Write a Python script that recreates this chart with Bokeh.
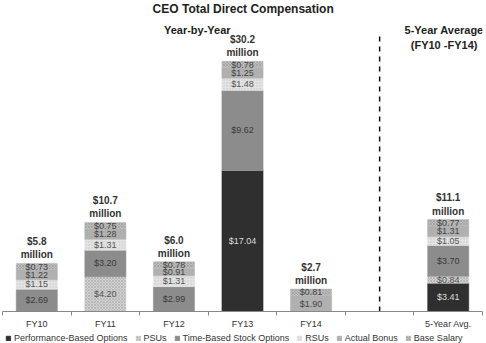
from bokeh.plotting import figure
from bokeh.layouts import column
from bokeh.models import (ColumnDataSource, Range1d, FixedTicker, Legend, LegendItem, Label)
from bokeh.core.properties import value
from bokeh.transform import stack
from bokeh.embed import file_html
from bokeh.resources import INLINE

# Compensation data ($ millions)
categories = ["FY10", "FY11", "FY12", "FY13", "FY14", "", "5-Year Avg."]
perf_options = [0, 0, 0, 17.04, 0, 0, 3.41]
psus = [0, 4.20, 0, 0, 0, 0, 0.84]
time_options = [2.69, 3.20, 2.99, 9.62, 0, 0, 3.70]
rsus = [1.15, 1.31, 1.31, 1.48, 0, 0, 1.05]
bonus = [1.22, 1.28, 0.91, 1.25, 1.90, 0, 1.31]
salary = [0.73, 0.75, 0.78, 0.78, 0.81, 0, 0.77]
totals = [5.8, 10.7, 6.0, 30.2, 2.7, 0, 11.1]

series_names = ["Performance-Based Options", "PSUs", "Time-Based Stock Options",
                "RSUs", "Actual Bonus", "Base Salary"]
series_vals = [perf_options, psus, time_options, rsus, bonus, salary]

FONT = "Liberation Sans"
fills = ["#2f2f2f", "#d2d2d2", "#8c8c8c", "#e4e4e4", "#b0b0b0", "#bcbcbc"]
hatches = [None, "x", None, "dot", None, "x"]
hatch_cols = [None, "#a8a8a8", None, "#c4c4c4", None, "#999999"]
label_cols = ["#dddddd", "#555555", "#3a3a3a", "#555555", "#444444", "#444444"]


def layer_style(i):
    kw = dict(fill_color=fills[i], line_color=fills[i], line_width=0.5)
    if hatches[i]:
        kw.update(hatch_pattern=hatches[i], hatch_color=hatch_cols[i],
                  hatch_scale=3, hatch_weight=0.6)
    return kw


xs = [i + 0.5 for i in range(len(categories))]
keys = ["s%d" % i for i in range(len(series_names))]
data = {"x": xs}
for k, v in zip(keys, series_vals):
    data[k] = v
src = ColumnDataSource(data)

p = figure(width=486, height=331, output_backend="svg", toolbar_location=None,
           x_range=Range1d(0, len(categories)), y_range=Range1d(0, 37.5),
           min_border_left=2, min_border_right=4, min_border_top=0, min_border_bottom=0)
p.outline_line_color = None
p.xgrid.visible = False
p.ygrid.visible = False
p.yaxis.visible = False

# Stacked segments, one layer per component
for i, k in enumerate(keys):
    p.vbar(x="x", width=0.6, bottom=stack(*keys[:i]), top=stack(*keys[: i + 1]),
           source=src, **layer_style(i))

# Segment value labels
lx, ly, lt, lc = [], [], [], []
for i, vals in enumerate(series_vals):
    for j, v in enumerate(vals):
        if v <= 0:
            continue
        base = sum(series_vals[m][j] for m in range(i))
        lx.append(xs[j])
        ly.append(base + v / 2)
        lt.append("$%.2f" % v)
        lc.append(label_cols[i])
p.text(x=lx, y=ly, text=lt, text_color=lc, text_font_size="9px",
       text_align="center", text_baseline="middle", text_font=value(FONT))

# Total labels above bars
tx, ty, tt = [], [], []
for j, t in enumerate(totals):
    if t <= 0:
        continue
    tx.append(xs[j])
    ty.append(sum(s[j] for s in series_vals))
    tt.append("$%.1f\nmillion" % t)
p.text(x=tx, y=ty, text=tt, text_color="#333333", text_font_size="10px",
       text_font_style="bold", text_align="center", text_baseline="bottom",
       y_offset=-3, text_font=value(FONT), text_line_height=1.2)

# Divider between yearly and average sections
gap = categories.index("")
p.segment(x0=[xs[gap]], y0=[0], x1=[xs[gap]], y1=[33.3], line_color="#111111",
          line_width=1.5, line_dash="5 5")

# Headings
for txt, x, y, size in [("CEO Total Direct Compensation", 3.51, 36.5, "12px"),
                        ("Year-by-Year", 2.84, 34.0, "11px"),
                        ("5-Year Average", 6.44, 34.0, "11px"),
                        ("(FY10 -FY14)", 6.44, 32.1, "11px")]:
    p.add_layout(Label(x=x, y=y, text=txt, text_font_size=size, text_font_style="bold",
                       text_color="#222222", text_align="center", text_baseline="middle",
                       text_font=FONT))

# X axis: labels at centres, ticks at category boundaries
ax = p.xaxis[0]
ax.ticker = FixedTicker(ticks=xs, minor_ticks=list(range(len(categories) + 1)))
ax.major_label_overrides = {x: c for x, c in zip(xs, categories)}
ax.major_tick_line_color = None
ax.major_tick_out = 0
ax.major_tick_in = 0
ax.minor_tick_line_color = "#888888"
ax.minor_tick_out = 4
ax.minor_tick_in = 0
ax.axis_line_color = "#888888"
ax.major_label_text_font_size = "9px"
ax.major_label_text_color = "#333333"
ax.major_label_text_font = FONT
ax.major_label_standoff = 3

# Legend strip underneath the chart; swatch bars sit outside the visible range
lf = figure(width=486, height=12, output_backend="svg", toolbar_location=None,
            x_range=Range1d(0, 1), y_range=Range1d(0, 1),
            min_border_left=0, min_border_right=0, min_border_top=0, min_border_bottom=0)
lf.outline_line_color = None
lf.xaxis.visible = False
lf.yaxis.visible = False
lf.xgrid.visible = False
lf.ygrid.visible = False
swatches = [lf.vbar(x=[-5], top=[0], width=0.1, **layer_style(i)) for i in range(len(series_names))]
legend = Legend(items=[LegendItem(label=n, renderers=[r]) for n, r in zip(series_names, swatches)],
                orientation="horizontal", location=(3, 0),
                label_text_font_size="9px", label_text_color="#333333", label_text_font=FONT,
                glyph_width=6, glyph_height=6, label_height=9, label_standoff=3, spacing=7,
                padding=0, margin=0, border_line_color=None, background_fill_alpha=0)
lf.add_layout(legend)

open("out.html", "w").write(file_html(column(p, lf, spacing=0), INLINE))
